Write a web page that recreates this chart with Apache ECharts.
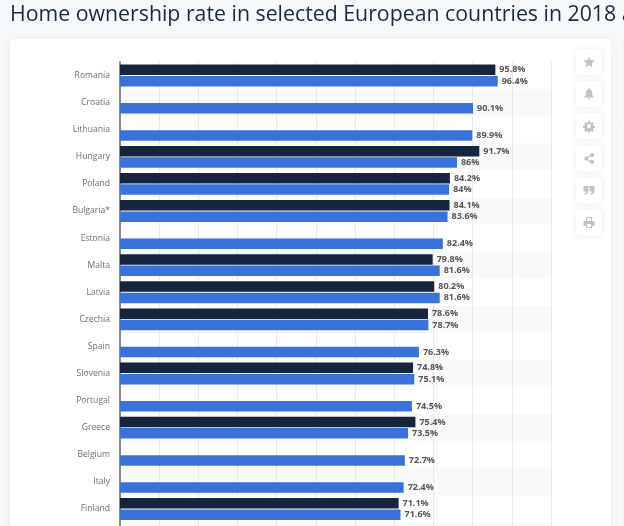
<!DOCTYPE html>
<html><head><meta charset="utf-8">
<style>html,body{margin:0;padding:0;background:#f7f8fa}#c{width:624px;height:526px}</style>
<script src="https://cdn.jsdelivr.net/npm/echarts@6/dist/echarts.min.js"></script>
</head><body><div id="c"></div>
<script>
const titleText = 'Home ownership rate in selected European countries in 2018 a';
const categories = ['Romania','Croatia','Lithuania','Hungary','Poland','Bulgaria*','Estonia','Malta','Latvia','Czechia','Spain','Slovenia','Portugal','Greece','Belgium','Italy','Finland',''];
const darkValues = [95.8,null,null,91.7,84.2,84.1,null,79.8,80.2,78.6,null,74.8,null,75.4,null,null,71.1,null];
const blueValues = [96.4,90.1,89.9,86,84,83.6,82.4,81.6,81.6,78.7,76.3,75.1,74.5,73.5,72.7,72.4,71.6,null];
const icons = [
 'M12 1l3.300 7.500 8 .7-6 5.300 1.800 7.800L12 18.300 4.900 22.300l1.800-7.800-6-5.300 8-.7z',
 'M12 1c-1 0-2 .8-2 1.800C7 3.600 5.500 7 5.500 10c0 4-1 5.500-2.500 7v2h18v-2c-1.500-1.500-2.500-3-2.500-7 0-3-1.500-6.400-4.500-7.200C14 1.800 13 1 12 1zM9.500 20a2.500 2.500 0 0 0 5 0z',
 'M10 2h4l.5 3 2 .8 2.500-1.800 2.800 2.800-1.800 2.500.8 2 3 .5v4l-3 .5-.8 2 1.800 2.500-2.800 2.800-2.500-1.800-2 .8-.5 3h-4l-.5-3-2-.8-2.500 1.800-2.800-2.800 1.800-2.500-.8-2-3-.5v-4l3-.5.8-2L2.200 6.800 5 4l2.500 1.800 2-.8zM12 8a4 4 0 1 0 0 8 4 4 0 0 0 0-8z',
 'M18 1a4 4 0 1 1-3 6.700L9.500 10.800a4 4 0 0 1 0 2.400L15 16.300a4 4 0 1 1-1 2.700L8 15.700a4 4 0 1 1 0-7.400L14 5a4 4 0 0 1 4-4z',
 'M1 3h10v10c0 4-3 6.500-7.500 8l-1-2.500C5 17.500 6 16 6 14H1zM13 3h10v10c0 4-3 6.500-7.500 8l-1-2.500c2.500-1 3.500-2.500 3.500-4.500h-5z',
 'M6 1h12v8h3a2 2 0 0 1 2 2v8h-5v4H6v-4H1v-8a2 2 0 0 1 2-2h3zM8 3v6h8V3zM8 15v6h8v-6z'
];
icons.forEach((d,i)=>echarts.graphic.registerShape('icon'+i, echarts.graphic.extendPath(d,{})));
const btnY = [49.500,81.500,113.500,146,178,210];
const graphics = [
 {type:'rect',z:-5,silent:true,shape:{x:10,y:39,width:601,height:500,r:4},style:{fill:'#fff',shadowBlur:10,shadowColor:'rgba(30,50,80,0.07)'}},
 {type:'rect',z:-5,silent:true,shape:{x:623,y:39,width:10,height:78,r:3},style:{fill:'#fff',stroke:'#eceef2'}},
 {type:'rect',z:-5,silent:true,shape:{x:623,y:131,width:10,height:400,r:3},style:{fill:'#fff',stroke:'#eceef2'}}
];
btnY.forEach((y,i)=>{
 graphics.push({type:'rect',z:-4,silent:true,shape:{x:576,y:y,width:26,height:25.500,r:3},style:{fill:'#fff',shadowBlur:6,shadowColor:'rgba(30,50,80,0.10)'}});
 graphics.push({type:'icon'+i,z:-3,silent:true,x:583,y:y+6.500,scaleX:0.5,scaleY:0.5,style:{fill:'#bcc3cc'}});
});
const chart = echarts.init(document.getElementById('c'),null,{renderer:'canvas'});
const labelOpt = {show:true,position:'right',distance:4,fontFamily:'"Open Sans"',fontSize:9,fontWeight:'bold',color:'#555555',formatter:p=>p.value==null?'':p.value+'%'};
chart.setOption({
 animation:false,
 backgroundColor:'#f7f8fa',
 title:{text:titleText,left:5,top:-1,textStyle:{fontFamily:'"Open Sans"',fontSize:21.300,fontWeight:'normal',color:'#1b2a3e'}},
 graphic:graphics,
 grid:{left:120,top:62,width:431,height:487.600,outerBoundsMode:'none'},
 xAxis:{type:'value',min:0,max:110,interval:10,axisLabel:{show:false},axisLine:{show:false},axisTick:{show:false},splitLine:{show:true,lineStyle:{color:'#e9e9e9',width:1}}},
 yAxis:{type:'category',inverse:true,data:categories,axisTick:{show:false},
  axisLine:{show:true,onZero:false,lineStyle:{color:'#8a8a8a',width:2}},
  axisLabel:{color:'#6e6e6e',fontFamily:'"Open Sans"',fontSize:8.600,margin:10,interval:0},
  splitLine:{show:false},
  splitArea:{show:true,interval:0,areaStyle:{color:['#ffffff','#f9f9f9']}}},
 series:[
  {name:'2018',type:'bar',data:darkValues,barWidth:10.500,barGap:'8%',itemStyle:{color:'#14253d'},label:labelOpt},
  {name:'2019',type:'bar',data:blueValues,barWidth:10.500,barGap:'8%',itemStyle:{color:'#3a72dc'},label:labelOpt}
 ]
});
</script></body></html>
